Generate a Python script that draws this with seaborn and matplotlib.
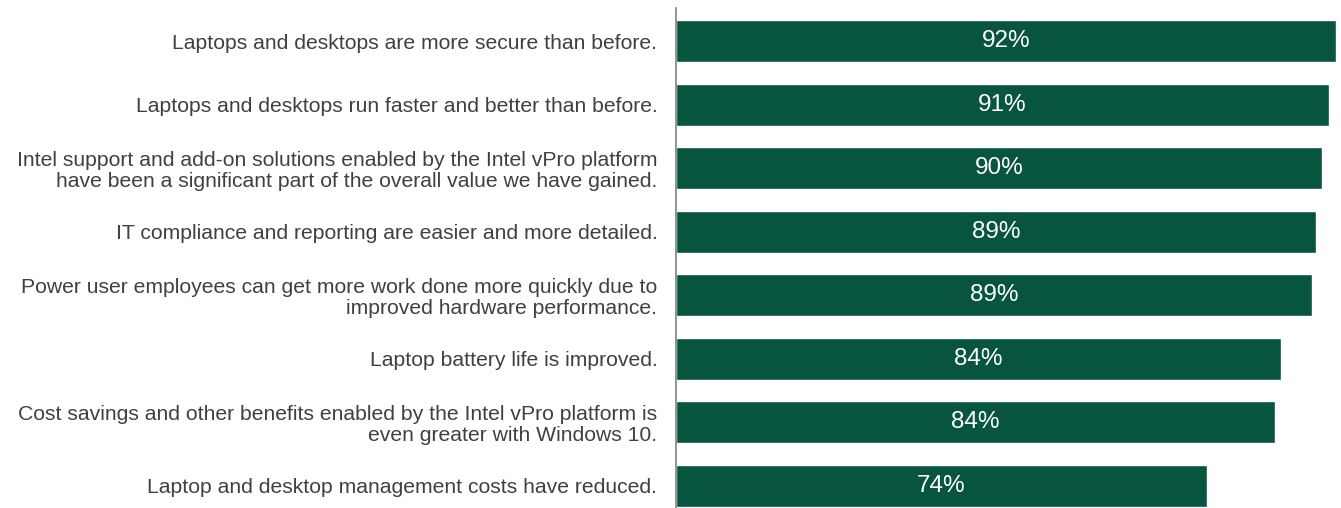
import pandas as pd
import matplotlib
matplotlib.use('Agg')
import matplotlib.pyplot as plt
import seaborn as sns

# statements and share of respondents agreeing (bar lengths)
statements = [
    'Laptops and desktops are more secure than before.',
    'Laptops and desktops run faster and better than before.',
    'Intel support and add-on solutions enabled by the Intel vPro platform\nhave been a significant part of the overall value we have gained.',
    'IT compliance and reporting are easier and more detailed.',
    'Power user employees can get more work done more quickly due to\nimproved hardware performance.',
    'Laptop battery life is improved.',
    'Cost savings and other benefits enabled by the Intel vPro platform is\neven greater with Windows 10.',
    'Laptop and desktop management costs have reduced.',
]
values = [92.0, 91.05, 90.1, 89.2, 88.7, 84.3, 83.5, 74.0]
labels = ['92%', '91%', '90%', '89%', '89%', '84%', '84%', '74%']

df = pd.DataFrame({'statement': statements, 'value': values})

sns.set_theme(style='white')
plt.rcParams['font.family'] = ['Liberation Sans', 'DejaVu Sans']

fig = plt.figure(figsize=(13.41, 5.08), dpi=100)
ax = fig.add_axes([676 / 1341, 0, 660 / 1341, 500 / 508])

sns.barplot(data=df, x='value', y='statement', color='#07543F', saturation=1,
            width=0.66, orient='h', ax=ax)

for i, (v, lab) in enumerate(zip(values, labels)):
    ax.text(v / 2, i, lab, ha='center', va='center', color='white', fontsize=17.5)

ax.set_xlim(0, 92)
ax.set_ylim(7.35, -0.52)
ax.set_xlabel('')
ax.set_ylabel('')
ax.set_xticks([])
ax.tick_params(axis='y', length=0, pad=13.5, labelsize=15.2, labelcolor='#404040')
for t in ax.get_yticklabels():
    t.set_linespacing(1.15)
for s in ['top', 'right', 'bottom']:
    ax.spines[s].set_visible(False)
ax.spines['left'].set_color('#808080')
ax.spines['left'].set_linewidth(1.2)

fig.savefig('out.png', dpi=100)
